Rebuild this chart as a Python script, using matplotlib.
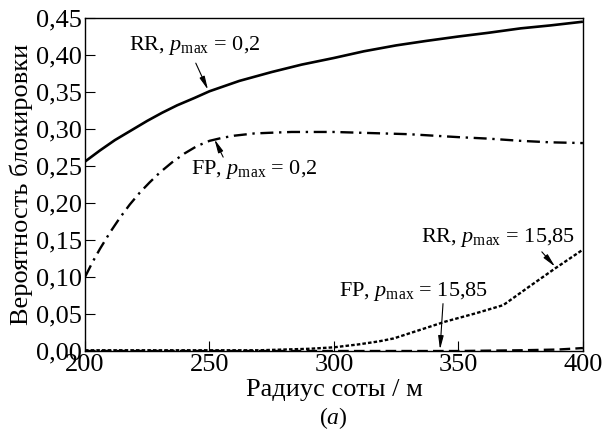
import matplotlib
matplotlib.use("Agg")
import matplotlib.pyplot as plt

plt.rcParams['font.family'] = ['Liberation Serif', 'DejaVu Serif']
plt.rcParams['mathtext.fontset'] = 'custom'
plt.rcParams['mathtext.rm'] = 'Liberation Serif'
plt.rcParams['mathtext.it'] = 'Liberation Serif:italic'

# Data
rr02_x = [200, 206, 212, 219, 225, 231, 237, 244, 250, 262, 275, 287, 300, 312, 325, 337, 350, 362, 375, 387, 400]
rr02_y = [0.256, 0.271, 0.285, 0.299, 0.311, 0.322, 0.332, 0.342, 0.351, 0.365, 0.377, 0.387, 0.396,
          0.405, 0.413, 0.419, 0.425, 0.430, 0.436, 0.440, 0.445]

fp02_x = [200, 203, 206, 210, 214, 218, 222, 226, 230, 235, 240, 245, 250, 255, 260, 268, 275, 283, 290,
          300, 310, 320, 330, 340, 350, 362, 375, 387, 400]
fp02_y = [0.10, 0.12, 0.138, 0.16, 0.18, 0.198, 0.214, 0.228, 0.241, 0.255, 0.267, 0.277, 0.284, 0.288,
          0.291, 0.294, 0.295, 0.296, 0.296, 0.296, 0.295, 0.294, 0.293, 0.291, 0.289, 0.287, 0.284,
          0.282, 0.281]

rr158_x = [200, 250, 270, 280, 290, 300, 310, 318, 324, 335, 345, 357, 368, 378, 389, 400]
rr158_y = [0.001, 0.001, 0.001, 0.002, 0.003, 0.005, 0.009, 0.013, 0.017, 0.029, 0.040, 0.051, 0.062,
           0.086, 0.112, 0.137]

fp158_x = [200, 300, 350, 375, 390, 400]
fp158_y = [0.0, 0.0, 0.0, 0.001, 0.002, 0.004]

xticks = [200, 250, 300, 350, 400]
yticks = [0.00, 0.05, 0.10, 0.15, 0.20, 0.25, 0.30, 0.35, 0.40, 0.45]
xtick_labels = ['200', '250', '300', '350', '400']
ytick_labels = ['0,00', '0,05', '0,10', '0,15', '0,20', '0,25', '0,30', '0,35', '0,40', '0,45']

fig = plt.figure(figsize=(6.05, 4.38), dpi=100)
ax = fig.add_axes([0.1405, 0.1986, 0.823, 0.7603])

ax.plot(rr02_x, rr02_y, color='black', lw=1.9, solid_capstyle='butt')
ax.plot(fp02_x, fp02_y, color='black', lw=1.7, dashes=(5.5, 2.4, 1.0, 2.4))
ax.plot(rr158_x, rr158_y, color='black', lw=1.7, dashes=(1.5, 0.9))
ax.plot(fp158_x, fp158_y, color='black', lw=1.7, dashes=(4.5, 2.2))

ax.set_xlim(200, 400)
ax.set_ylim(0, 0.45)
ax.set_xticks(xticks)
ax.set_xticklabels(xtick_labels)
ax.set_yticks(yticks)
ax.set_yticklabels(ytick_labels)
ax.tick_params(direction='in', length=7, width=0.8, labelsize=19, pad=2,
               top=False, right=False)
for s in ax.spines.values():
    s.set_linewidth(1.0)

ax.set_ylabel('Вероятность блокировки', fontsize=19, labelpad=2)
ax.set_xlabel('Радиус соты / м', fontsize=19, labelpad=2)
fig.text(0.551, 0.045, '$(a)$', fontsize=17, ha='center', va='center')

arrow = dict(arrowstyle='-|>,head_length=0.8,head_width=0.16', color='black',
             lw=0.8, shrinkA=0, shrinkB=0)
tsize = 16

ax.text(244, 0.413, 'RR, $p_{\\mathrm{max}}$ = 0,2', ha='center', va='center', fontsize=tsize)
ax.annotate('', xy=(249.4, 0.353), xytext=(244.5, 0.389), arrowprops=arrow)

ax.text(268, 0.245, 'FP, $p_{\\mathrm{max}}$ = 0,2', ha='center', va='center', fontsize=tsize)
ax.annotate('', xy=(252, 0.286), xytext=(255.5, 0.262), arrowprops=arrow)

ax.text(366, 0.153, 'RR, $p_{\\mathrm{max}}$ = 15,85', ha='center', va='center', fontsize=tsize)
ax.annotate('', xy=(388.8, 0.114), xytext=(383.5, 0.134), arrowprops=arrow)

ax.text(332, 0.080, 'FP, $p_{\\mathrm{max}}$ = 15,85', ha='center', va='center', fontsize=tsize)
ax.annotate('', xy=(342.6, 0.002), xytext=(343.8, 0.064), arrowprops=arrow)

fig.savefig('out.png', dpi=100)
